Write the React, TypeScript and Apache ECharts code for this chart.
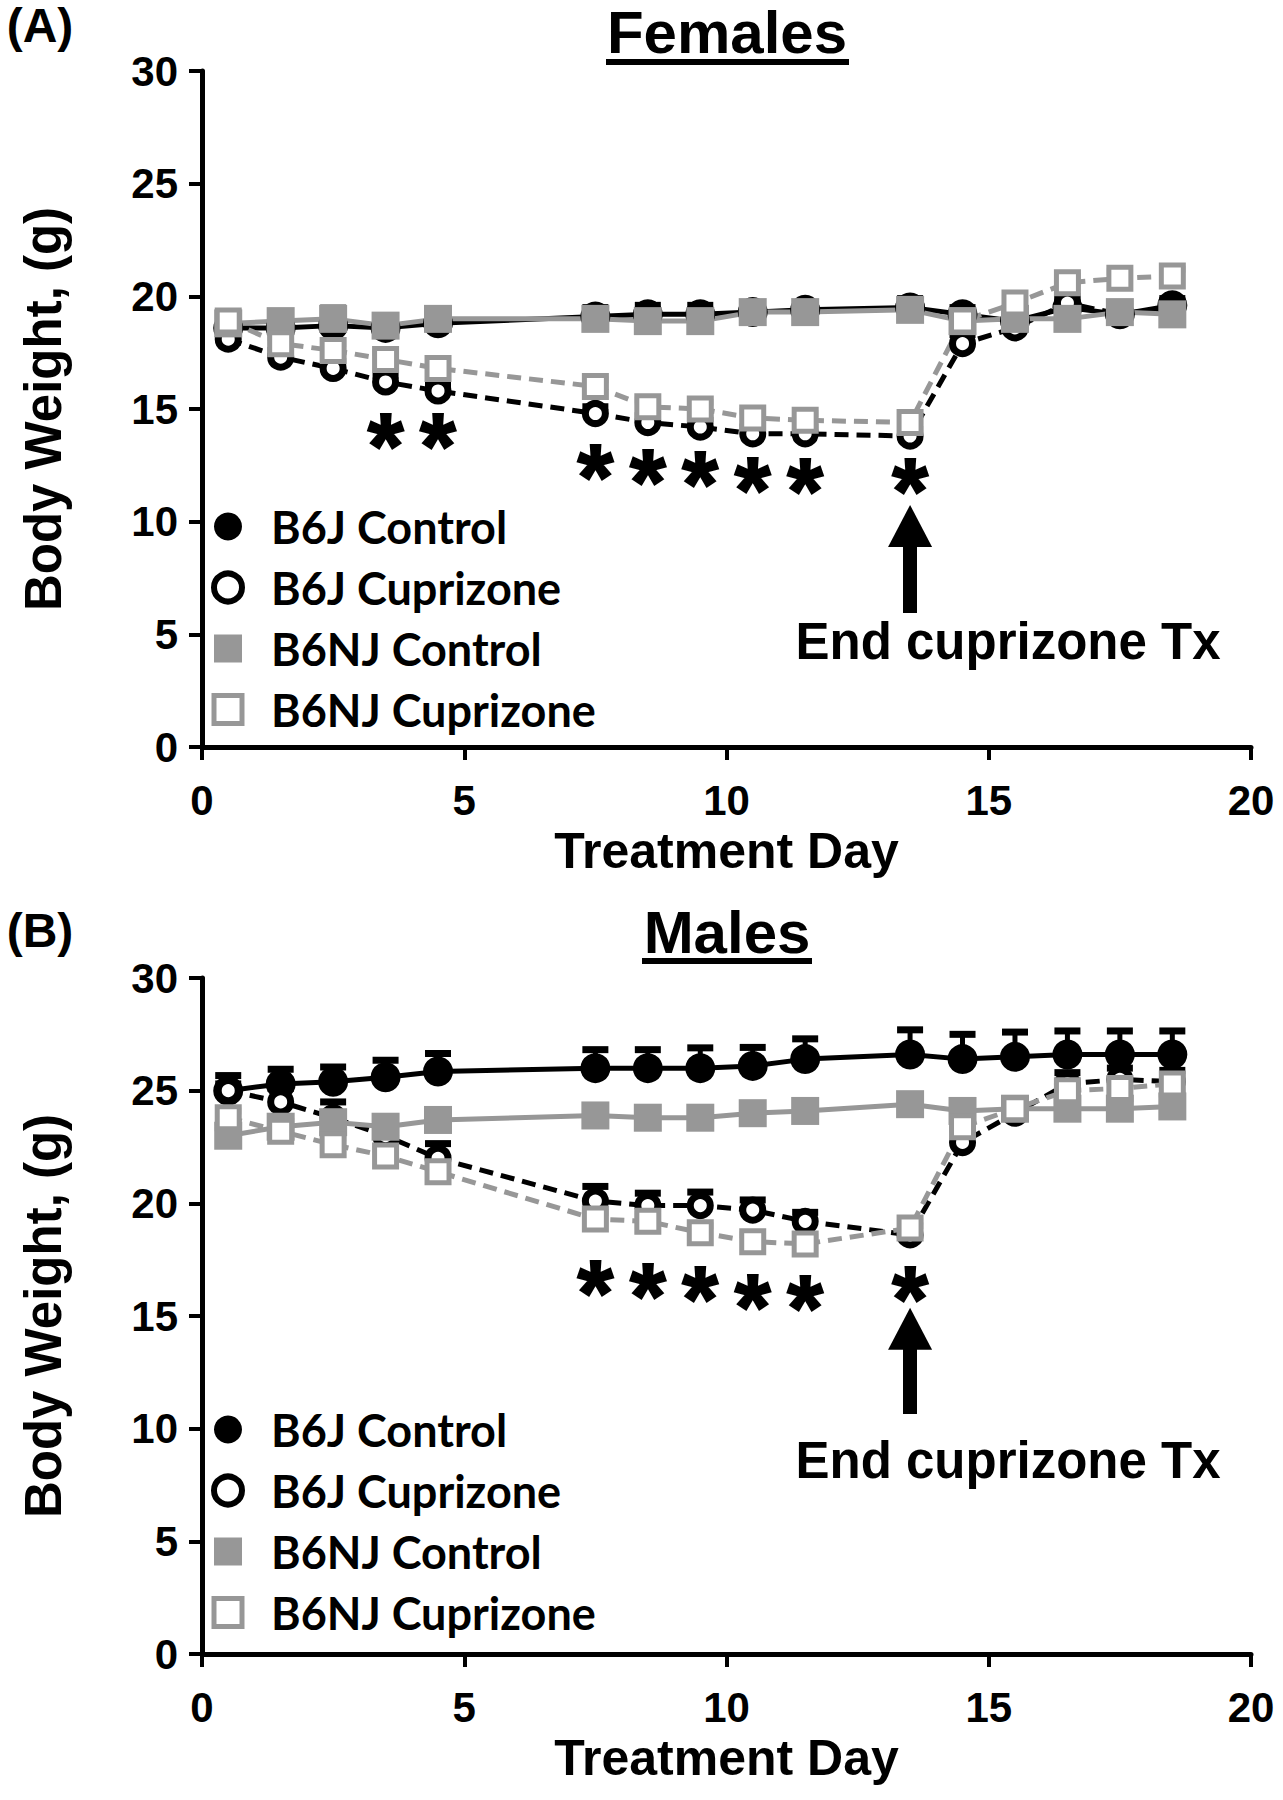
import React, { useEffect, useRef } from "react";
import * as echarts from "echarts";

// ---------- data ----------
const days = [0.5, 1.5, 2.5, 3.5, 4.5, 7.5, 8.5, 9.5, 10.5, 11.5, 13.5, 14.5, 15.5, 16.5, 17.5, 18.5];

// Females (panel A)
const fB6JControl = [18.6, 18.6, 18.7, 18.6, 18.8, 19.1, 19.2, 19.2, 19.3, 19.4, 19.5, 19.2, 18.9, 19.5, 19.2, 19.6];
const fB6JCuprizone = [18.1, 17.3, 16.8, 16.2, 15.8, 14.8, 14.4, 14.2, 13.9, 13.9, 13.8, 17.9, 18.6, 19.7, 19.2, 19.5];
const fB6NJControl = [18.8, 18.9, 19.0, 18.7, 19.0, 19.0, 18.9, 18.9, 19.3, 19.3, 19.4, 18.9, 19.0, 19.0, 19.3, 19.2];
const fB6NJCuprizone = [18.9, 17.9, 17.6, 17.2, 16.8, 16.0, 15.1, 15.0, 14.6, 14.5, 14.4, 18.9, 19.7, 20.6, 20.8, 20.9];
const fErrB6JControl = [0.3, 0.3, 0.4, 0.3, 0.3, 0.4, 0.4, 0.4, 0.3, 0.3, 0.4, 0.3, 0.3, 0.4, 0.3, 0.3];
const fErrB6JCuprizone = [0.3, 0.3, 0.3, 0.3, 0.3, 0.3, 0.3, 0.3, 0.3, 0.3, 0.3, 0.4, 0.3, 0.3, 0.3, 0.3];
const fErrB6NJControl = [0.3, 0.3, 0.5, 0.3, 0.3, 0.3, 0.3, 0.3, 0.3, 0.3, 0.3, 0.3, 0.3, 0.3, 0.4, 0.3];
const fErrB6NJCuprizone = [0.3, 0.3, 0.3, 0.3, 0.3, 0.3, 0.3, 0.3, 0.3, 0.3, 0.3, 0.3, 0.3, 0.3, 0.3, 0.3];

// Males (panel B)
const mB6JControl = [25.0, 25.3, 25.4, 25.6, 25.85, 26.0, 26.0, 26.0, 26.1, 26.4, 26.6, 26.4, 26.5, 26.6, 26.6, 26.6];
const mB6JCuprizone = [25.0, 24.5, 23.8, 23.0, 22.0, 20.1, 19.9, 19.9, 19.7, 19.2, 18.6, 22.7, 24.0, 25.3, 25.5, 25.4];
const mB6NJControl = [23.0, 23.4, 23.6, 23.4, 23.7, 23.9, 23.8, 23.8, 24.0, 24.1, 24.4, 24.1, 24.2, 24.2, 24.2, 24.3];
const mB6NJCuprizone = [23.8, 23.2, 22.6, 22.1, 21.4, 19.3, 19.2, 18.7, 18.3, 18.2, 18.9, 23.4, 24.2, 25.0, 25.1, 25.3];
const mErrB6JControl = [0.67, 0.65, 0.65, 0.75, 0.8, 0.82, 0.82, 0.9, 0.82, 0.9, 1.1, 1.1, 1.1, 1.05, 1.05, 1.05];
const mErrB6JCuprizone = [0.3, 0.6, 0.7, 0.6, 0.65, 0.65, 0.55, 0.6, 0.45, 0.4, 0.4, 0.6, 0.5, 0.5, 0.5, 0.5];
const mErrB6NJControl = [0.4, 0.4, 0.4, 0.4, 0.4, 0.4, 0.4, 0.4, 0.4, 0.4, 0.4, 0.4, 0.4, 0.5, 0.5, 0.5];
const mErrB6NJCuprizone = [0.3, 0.3, 0.3, 0.3, 0.3, 0.3, 0.3, 0.3, 0.3, 0.3, 0.3, 0.3, 0.3, 0.3, 0.3, 0.3];

// significance asterisks [day, g]
const starsA = [[3.5, 14.3], [4.5, 14.3], [7.5, 12.9], [8.5, 12.7], [9.5, 12.6], [10.5, 12.35], [11.5, 12.3], [13.5, 12.3]];
const starsB = [[7.5, 16.95], [8.5, 16.8], [9.5, 16.7], [10.5, 16.35], [11.5, 16.3], [13.5, 16.7]];

// "End cuprizone Tx" arrows: [day, from g, to g]
const arrowA = [13.5, 5.95, 9.81];
const arrowB = [13.5, 10.65, 14.43];

const seriesNames = ["B6J Control", "B6J Cuprizone", "B6NJ Control", "B6NJ Cuprizone"];
const yTicks = { min: 0, max: 30, interval: 5 };
const xTicks = { min: 0, max: 20, interval: 5 };

const GRAY = "#979797";
const BLACK = "#000000";
const NUM_FONT = "'Liberation Sans', Arial, sans-serif";
const LEG_FONT = "Lato, 'Open Sans', sans-serif";

function pairs(ys: number[]) {
  return days.map((d, i) => [d, ys[i]]);
}
function triples(ys: number[], es: number[]) {
  return days.map((d, i) => [d, ys[i], es[i]]);
}

function errRender(color: string) {
  return (params: any, api: any) => {
    const x = api.value(0);
    const y = api.value(1);
    const e = api.value(2);
    const p0 = api.coord([x, y]);
    const p1 = api.coord([x, y + e]);
    const cap = 13;
    return {
      type: "group",
      children: [
        { type: "line", shape: { x1: p0[0], y1: p0[1], x2: p1[0], y2: p1[1] }, style: { stroke: color, lineWidth: 5 } },
        { type: "line", shape: { x1: p1[0] - cap, y1: p1[1], x2: p1[0] + cap, y2: p1[1] }, style: { stroke: color, lineWidth: 7 } },
      ],
    };
  };
}

function panelSeries(idx: number, vals: number[][], errs: number[][], stars: number[][], arrow: number[]) {
  const errColors = [BLACK, BLACK, GRAY, GRAY];
  const out: any[] = [];
  errs.forEach((e, k) => {
    out.push({
      type: "custom",
      xAxisIndex: idx,
      yAxisIndex: idx,
      renderItem: errRender(errColors[k]),
      encode: { x: 0, y: 1 },
      data: triples(vals[k], e),
      silent: true,
      z: 1,
    });
  });
  out.push({
    type: "line",
    name: seriesNames[0],
    xAxisIndex: idx,
    yAxisIndex: idx,
    data: pairs(vals[0]),
    symbol: "circle",
    symbolSize: 30,
    itemStyle: { color: BLACK },
    lineStyle: { color: BLACK, width: 5 },
    z: 2,
  });
  out.push({
    type: "line",
    name: seriesNames[1],
    xAxisIndex: idx,
    yAxisIndex: idx,
    data: pairs(vals[1]),
    symbol: "circle",
    symbolSize: 20,
    itemStyle: { color: "#ffffff", borderColor: BLACK, borderWidth: 7 },
    lineStyle: { color: BLACK, width: 5, type: [14, 8] },
    z: 2,
  });
  out.push({
    type: "line",
    name: seriesNames[2],
    xAxisIndex: idx,
    yAxisIndex: idx,
    data: pairs(vals[2]),
    symbol: "rect",
    symbolSize: 28,
    itemStyle: { color: GRAY },
    lineStyle: { color: GRAY, width: 5 },
    z: 2,
  });
  out.push({
    type: "line",
    name: seriesNames[3],
    xAxisIndex: idx,
    yAxisIndex: idx,
    data: pairs(vals[3]),
    symbol: "rect",
    symbolSize: 22,
    itemStyle: { color: "#ffffff", borderColor: GRAY, borderWidth: 5 },
    lineStyle: { color: GRAY, width: 5, type: [14, 8] },
    z: 2,
  });
  out.push({
    type: "scatter",
    xAxisIndex: idx,
    yAxisIndex: idx,
    data: stars,
    symbolSize: 1,
    itemStyle: { color: "rgba(0,0,0,0)", opacity: 1 },
    silent: true,
    z: 3,
    label: {
      show: true,
      position: "inside",
      formatter: "*",
      fontFamily: NUM_FONT,
      fontWeight: "bold",
      fontSize: 92,
      color: BLACK,
      opacity: 1,
      textBorderWidth: 2,
      textBorderColor: BLACK,
      offset: [0, 21],
    },
    markLine: {
      silent: true,
      symbol: ["none", "triangle"],
      symbolSize: [44, 42],
      label: { show: false },
      lineStyle: { color: BLACK, width: 14, type: "solid", opacity: 1 },
      itemStyle: { color: BLACK, opacity: 1 },
      data: [[{ coord: [arrow[0], arrow[1]] }, { coord: [arrow[0], arrow[2]] }]],
    },
  });
  return out;
}

function axisPair(idx: number) {
  const common = {
    gridIndex: idx,
    type: "value",
    splitLine: { show: false },
    axisLine: { show: true, onZero: false, lineStyle: { color: BLACK, width: 5 } },
    axisTick: { show: true, inside: false, length: 13, lineStyle: { color: BLACK, width: 4 } },
    nameLocation: "middle",
  };
  return {
    x: {
      ...common,
      ...xTicks,
      name: "Treatment Day",
      nameGap: 79,
      nameTextStyle: { fontFamily: NUM_FONT, fontWeight: "bold", fontSize: 50, color: BLACK },
      axisLabel: { margin: 32, fontFamily: NUM_FONT, fontWeight: "bold", fontSize: 42, color: BLACK },
    },
    y: {
      ...common,
      ...yTicks,
      name: "Body Weight, (g)",
      nameGap: 133,
      nameRotate: 90,
      nameTextStyle: { fontFamily: NUM_FONT, fontWeight: "bold", fontSize: 51, color: BLACK },
      axisLabel: { margin: 24, fontFamily: NUM_FONT, fontWeight: "bold", fontSize: 42, color: BLACK },
    },
  };
}

function legendAt(top: number) {
  return {
    orient: "vertical",
    left: 206,
    top,
    itemWidth: 28,
    itemHeight: 28,
    itemGap: 16,
    selectedMode: false,
    textStyle: { fontFamily: LEG_FONT, fontWeight: "bold", fontSize: 45, color: BLACK, padding: [0, 0, 0, 24] },
    data: [
      { name: seriesNames[0], icon: "circle", itemStyle: { color: BLACK, borderWidth: 0 } },
      { name: seriesNames[1], icon: "circle", itemStyle: { color: "#ffffff", borderColor: BLACK, borderWidth: 6 } },
      { name: seriesNames[2], icon: "rect", itemStyle: { color: GRAY, borderWidth: 0 } },
      { name: seriesNames[3], icon: "rect", itemStyle: { color: "#ffffff", borderColor: GRAY, borderWidth: 5 } },
    ],
  };
}

function textEl(text: string, x: number, y: number, size: number) {
  return {
    type: "text",
    x,
    y,
    style: {
      text,
      fill: BLACK,
      font: `bold ${size}px ${NUM_FONT}`,
      textAlign: "center",
      textVerticalAlign: "middle",
      align: "center",
      verticalAlign: "middle",
    },
  };
}

export default function App() {
  const ref = useRef<HTMLDivElement>(null);
  useEffect(() => {
    if (!ref.current) return;
    const chart = echarts.init(ref.current, undefined, { renderer: "svg" });
    const a = axisPair(0);
    const b = axisPair(1);
    const option: any = {
      animation: false,
      backgroundColor: "#ffffff",
      grid: [
        { left: 202, right: 32, top: 71, height: 676 },
        { left: 202, right: 32, top: 978, height: 676 },
      ],
      xAxis: [a.x, b.x],
      yAxis: [a.y, b.y],
      legend: [legendAt(499), legendAt(1402)],
      series: [
        ...panelSeries(
          0,
          [fB6JControl, fB6JCuprizone, fB6NJControl, fB6NJCuprizone],
          [fErrB6JControl, fErrB6JCuprizone, fErrB6NJControl, fErrB6NJCuprizone],
          starsA,
          arrowA
        ),
        ...panelSeries(
          1,
          [mB6JControl, mB6JCuprizone, mB6NJControl, mB6NJCuprizone],
          [mErrB6JControl, mErrB6JCuprizone, mErrB6NJControl, mErrB6NJCuprizone],
          starsB,
          arrowB
        ),
      ],
      graphic: [
        textEl("(A)", 40, 25, 48),
        textEl("Females", 727, 32, 60),
        { type: "rect", shape: { x: 606, y: 59, width: 243, height: 6 }, style: { fill: BLACK } },
        textEl("End cuprizone Tx", 1008, 641, 51),
        textEl("(B)", 40, 930, 48),
        textEl("Males", 727, 932, 60),
        { type: "rect", shape: { x: 642, y: 958, width: 170, height: 6 }, style: { fill: BLACK } },
        textEl("End cuprizone Tx", 1008, 1460, 51),
      ],
    };
    chart.setOption(option);
    return () => chart.dispose();
  }, []);
  return (
    <div
      ref={ref}
      style={{ position: "absolute", left: 0, top: 0, width: 1283, height: 1800, background: "#fff" }}
    />
  );
}
